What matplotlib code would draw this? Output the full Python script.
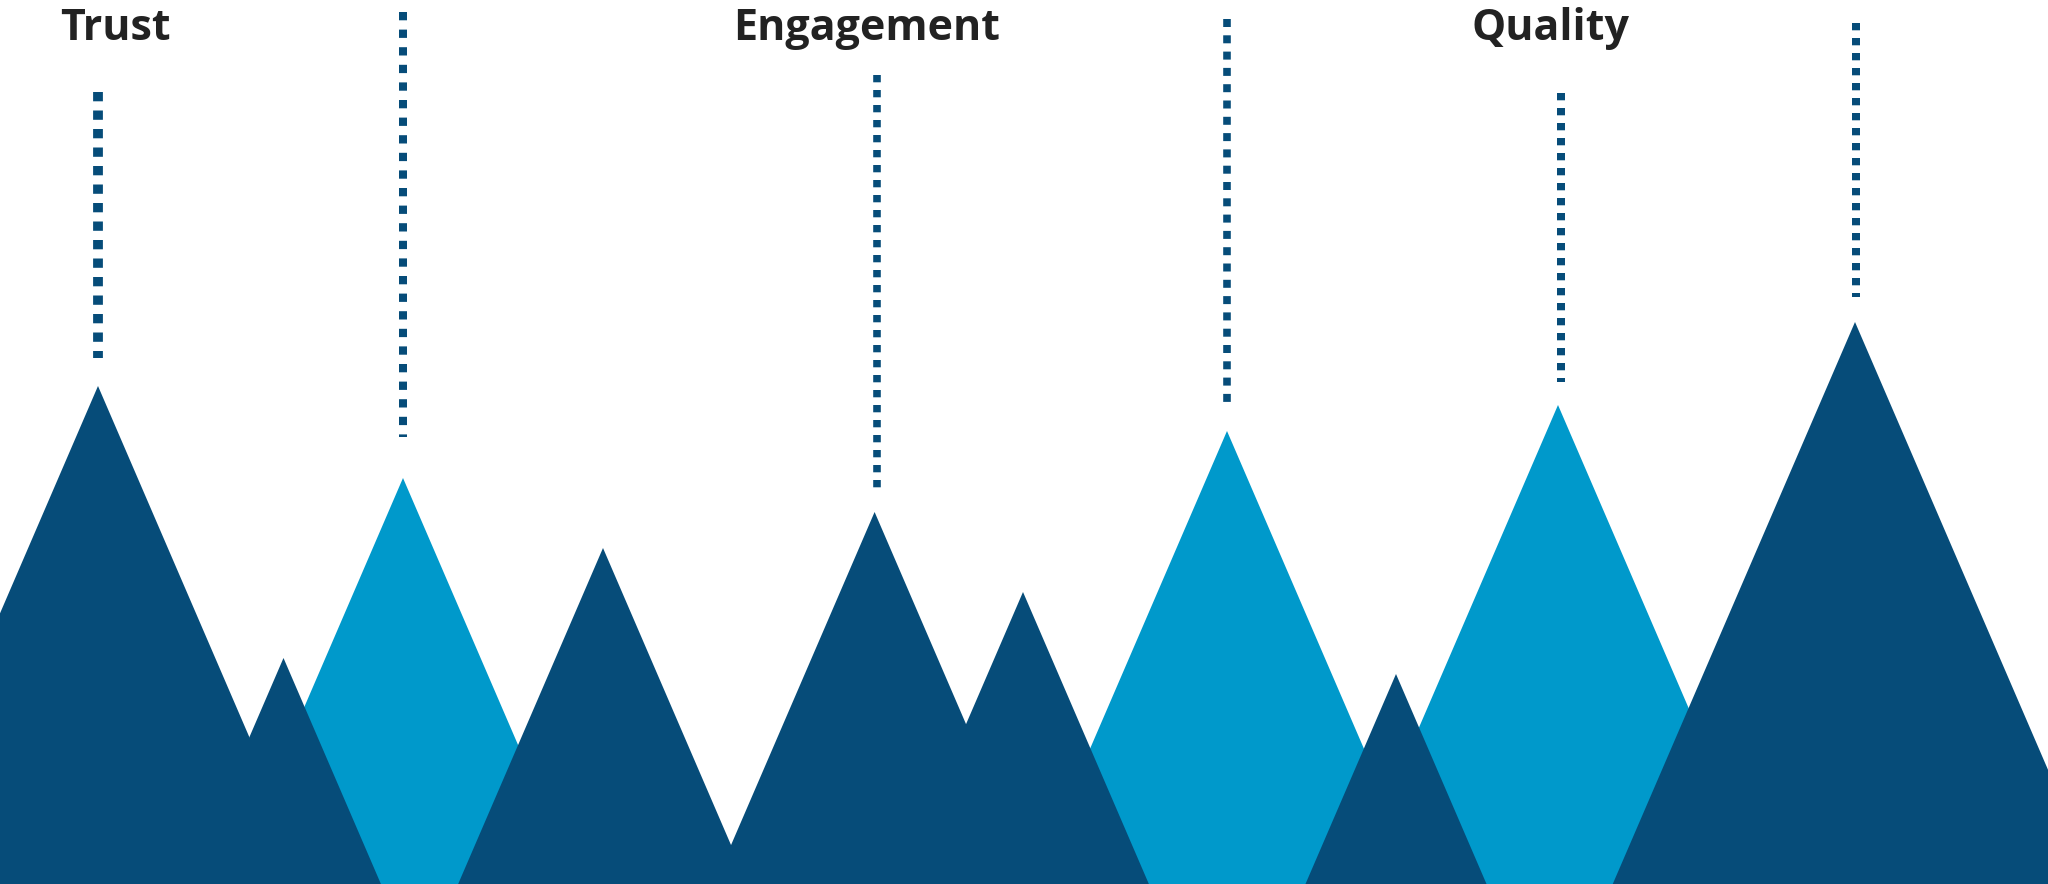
import matplotlib.pyplot as plt

# peaks (x position, height) of each mountain, in chart units (0..2048 x 0..884)
peak_x = [98, 403, 283.5, 603, 874.6, 1023, 1227, 1396, 1558, 1855]
peak_h = [498, 406, 226, 336, 372, 292, 453, 210, 479, 562]
shade = ['dark', 'light', 'dark', 'dark', 'dark', 'dark', 'light', 'dark', 'light', 'dark']
steep = 2.32  # height / half base

# dotted guide lines above some peaks
line_x = [98, 403, 877, 1227, 1561, 1856]
line_bottom = [526, 447, 394, 480, 502, 587]
line_top = [792, 872, 809, 865, 791, 861]
line_w = [9.8, 8.0, 7.6, 7.6, 8.0, 8.0]       # px
line_on = [9.3, 8.3, 7.3, 8.0, 7.3, 7.3]      # px
line_off = [9.2, 9.3, 7.7, 8.3, 7.7, 7.7]     # px

labels = ['Trust', 'Engagement', 'Quality']
label_x = [115.5, 867, 1551]
label_y = 843.5

colors = {'dark': '#064C79', 'light': '#0099CB'}

fig = plt.figure(figsize=(20.48, 8.84), dpi=100)
ax = fig.add_axes([0, 0, 1, 1])
ax.set_xlim(0, 2048)
ax.set_ylim(0, 884)
ax.axis('off')

# light ones go behind the dark ones
for kind in ['light', 'dark']:
    for i in range(len(peak_x)):
        if shade[i] != kind:
            continue
        hw = peak_h[i] / steep
        ax.fill([peak_x[i] - hw, peak_x[i], peak_x[i] + hw], [0, peak_h[i], 0],
                color=colors[kind], lw=0, zorder=2)

px = 0.72  # points per pixel at dpi 100
for i in range(len(line_x)):
    lw = line_w[i]
    ax.plot([line_x[i], line_x[i]], [line_top[i], line_bottom[i]],
            color=colors['dark'], lw=lw * px, solid_capstyle='butt',
            dash_capstyle='butt',
            linestyle=(0, (line_on[i] / lw, line_off[i] / lw)), zorder=3)

for i in range(len(labels)):
    ax.text(label_x[i], label_y, labels[i], ha='center', va='baseline',
            fontsize=31, fontweight='bold', family=['Open Sans', 'DejaVu Sans'],
            color='#222222')

plt.savefig('out.png', dpi=100)
